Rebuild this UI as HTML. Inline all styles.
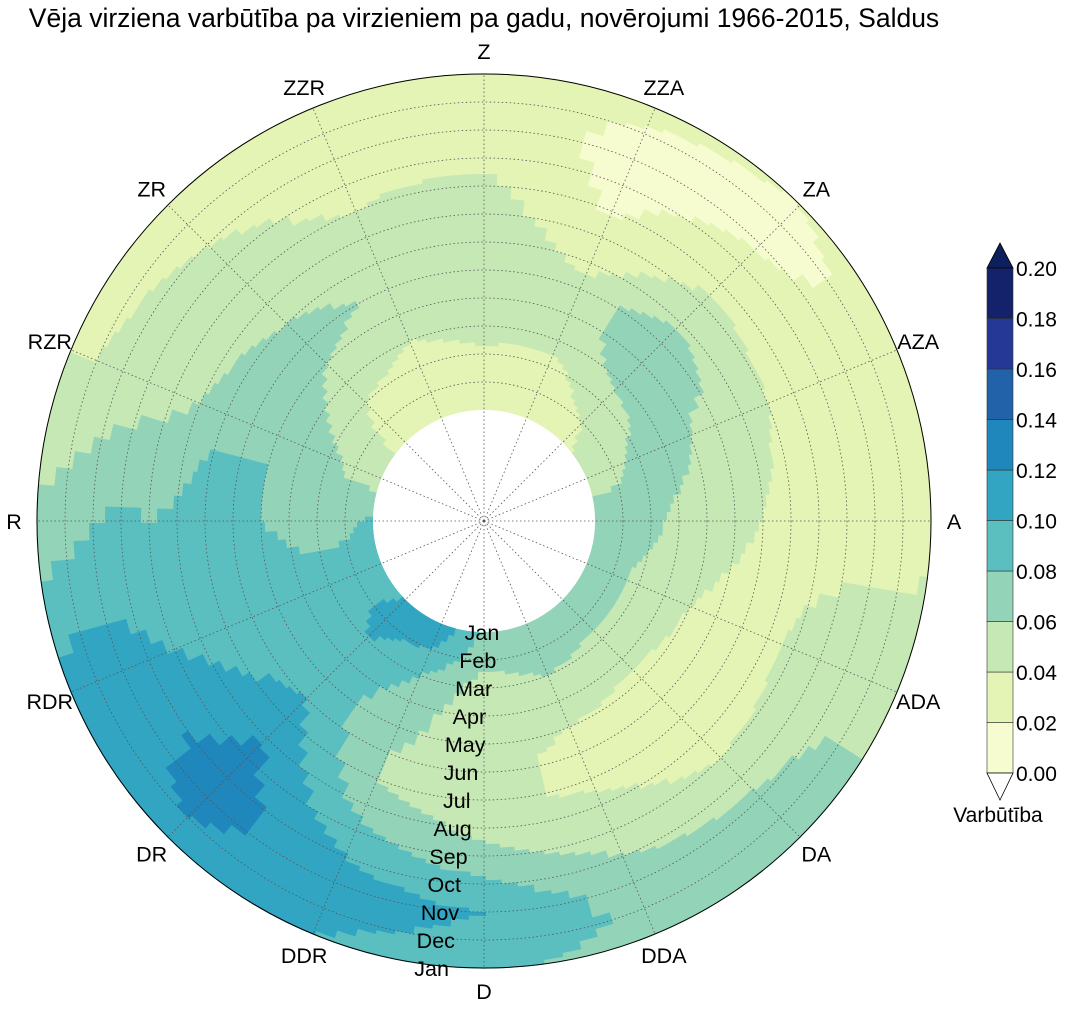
<!DOCTYPE html>
<html><head><meta charset="utf-8">
<style>
html,body{margin:0;padding:0;background:#fff;}
body{width:1065px;height:1008px;overflow:hidden;font-family:"Liberation Sans",Arial,sans-serif;}
svg text{font-family:"Liberation Sans",Arial,sans-serif;fill:#000;}
</style></head>
<body>
<svg id="chart" width="1065" height="1008" viewBox="0 0 1065 1008" xmlns="http://www.w3.org/2000/svg">
<text x="484" y="27" font-size="26.5" text-anchor="middle">Vēja virziena varbūtība pa virzieniem pa gadu, novērojumi 1966-2015, Saldus</text>
<g id="cells"></g>
<circle cx="484" cy="521" r="111" fill="#fff"/>
<g id="grid"></g>
<circle cx="484" cy="521" r="447" fill="none" stroke="#000" stroke-width="1"/>
<g id="dirlabels"></g>
<g id="monthlabels"></g>
<g id="cbar"></g>
<text x="998" y="822" font-size="21" text-anchor="middle">Varbūtība</text>
</svg>
<script>
const directions = ["Z","ZZA","ZA","AZA","A","ADA","DA","DDA","D","DDR","DR","RDR","R","RZR","ZR","ZZR"];
const months = ["Jan","Feb","Mar","Apr","May","Jun","Jul","Aug","Sep","Oct","Nov","Dec","Jan"];
const levels = [0,0.02,0.04,0.06,0.08,0.10,0.12,0.14,0.16,0.18,0.20];
const levelColors = ["#f7fcd0","#e3f4b4","#c6e8b4","#93d4b9","#5bbfc0","#31a5c2","#1f87bc","#2262a8","#253896","#13226a"];
const valZ   = [0.035,0.035,0.038,0.045,0.05,0.05,0.055,0.05,0.045,0.035,0.03,0.03,0.03];
const valZZA = [0.03,0.03,0.035,0.045,0.05,0.045,0.035,0.025,0.018,0.015,0.015,0.018,0.025];
const valZA  = [0.035,0.04,0.05,0.065,0.075,0.08,0.055,0.045,0.035,0.025,0.018,0.015,0.02];
const valAZA = [0.05,0.055,0.065,0.07,0.06,0.05,0.045,0.04,0.03,0.028,0.025,0.025,0.03];
const valA   = [0.07,0.07,0.065,0.055,0.05,0.045,0.04,0.035,0.03,0.03,0.03,0.03,0.035];
const valADA = [0.07,0.065,0.055,0.05,0.04,0.035,0.03,0.035,0.045,0.05,0.05,0.05,0.05];
const valDA  = [0.07,0.065,0.055,0.045,0.035,0.03,0.025,0.03,0.04,0.05,0.065,0.075,0.07];
const valDDA = [0.075,0.07,0.06,0.05,0.04,0.035,0.035,0.045,0.05,0.06,0.07,0.075,0.07];
const valD   = [0.075,0.065,0.05,0.045,0.045,0.045,0.045,0.055,0.065,0.085,0.1,0.095,0.085];
const valDDR = [0.115,0.1,0.08,0.07,0.065,0.06,0.06,0.07,0.085,0.1,0.11,0.105,0.1];
const valDR  = [0.1,0.105,0.1,0.095,0.09,0.1,0.11,0.12,0.125,0.13,0.125,0.12,0.11];
const valRDR = [0.095,0.09,0.09,0.09,0.1,0.095,0.09,0.095,0.1,0.105,0.11,0.115,0.11];
const valR   = [0.085,0.075,0.07,0.075,0.08,0.09,0.1,0.085,0.08,0.085,0.08,0.07,0.065];
const valRZR = [0.05,0.055,0.065,0.075,0.08,0.075,0.07,0.06,0.055,0.05,0.045,0.04,0.04];
const valZR  = [0.035,0.035,0.04,0.05,0.06,0.07,0.06,0.05,0.045,0.045,0.04,0.035,0.03];
const valZZR = [0.035,0.035,0.035,0.04,0.05,0.055,0.05,0.045,0.04,0.035,0.03,0.028,0.025];
const cbTicks = ["0.00","0.02","0.04","0.06","0.08","0.10","0.12","0.14","0.16","0.18","0.20"];

const values = [valZ,valZZA,valZA,valAZA,valA,valADA,valDA,valDDA,valD,valDDR,valDR,valRDR,valR,valRZR,valZR,valZZR];
const NS="http://www.w3.org/2000/svg";
const CX=484, CY=521, R0=111, R1=447;
const rScale = k => R0 + (R1-R0)*k/(months.length-1);
const pt = (deg, r) => { const a=deg*Math.PI/180; return [CX+r*Math.sin(a), CY-r*Math.cos(a)]; };
function colorFor(v){ let i=Math.floor(v/0.02); i=Math.max(0,Math.min(levelColors.length-1,i)); return levelColors[i]; }
function sample(dirF, monF){
  const n=directions.length;
  const d0=Math.floor(dirF), t=dirF-d0;
  const a=((d0%n)+n)%n, b=(a+1)%n;
  const m0=Math.min(months.length-2,Math.floor(monF)), u=monF-m0;
  const va=values[a][m0]*(1-u)+values[a][m0+1]*u;
  const vb=values[b][m0]*(1-u)+values[b][m0+1]*u;
  return va*(1-t)+vb*t;
}
const cells=document.getElementById('cells');
const NA=144, NR=84;
for(let i=0;i<NA;i++){
  const a0=i*360/NA, a1=(i+1)*360/NA;
  for(let j=0;j<NR;j++){
    const mf0=j*(months.length-1)/NR, mf1=(j+1)*(months.length-1)/NR;
    const v=sample((a0+a1)/2/22.5,(mf0+mf1)/2);
    const r0=rScale(mf0), r1=rScale(mf1)+0.6;
    const p1=pt(a0-0.3,r0),p2=pt(a1+0.3,r0),p3=pt(a1+0.3,r1),p4=pt(a0-0.3,r1);
    const p=document.createElementNS(NS,'path');
    p.setAttribute('d',`M${p1[0]},${p1[1]}A${r0},${r0} 0 0 1 ${p2[0]},${p2[1]}L${p3[0]},${p3[1]}A${r1},${r1} 0 0 0 ${p4[0]},${p4[1]}Z`);
    p.setAttribute('fill',colorFor(v));
    
    
    cells.appendChild(p);
  }
}
const grid=document.getElementById('grid');
for(let k=1;k<months.length-1;k++){
  const c=document.createElementNS(NS,'circle');
  c.setAttribute('cx',CX);c.setAttribute('cy',CY);c.setAttribute('r',rScale(k));
  c.setAttribute('fill','none');c.setAttribute('stroke','#555');c.setAttribute('stroke-width','0.8');c.setAttribute('stroke-dasharray','1.5,2.5');
  
  
  grid.appendChild(c);
}
directions.forEach((d,i)=>{
  const e=pt(i*22.5,R1);
  const l=document.createElementNS(NS,'line');
  l.setAttribute('x1',CX);l.setAttribute('y1',CY);l.setAttribute('x2',e[0]);l.setAttribute('y2',e[1]);
  l.setAttribute('stroke','#555');l.setAttribute('stroke-width','0.8');l.setAttribute('stroke-dasharray','1.5,2.5');
  
  
  grid.appendChild(l);
  const p=pt(i*22.5,470);
  const t=document.createElementNS(NS,'text');
  t.setAttribute('x',p[0]);t.setAttribute('y',p[1]+8);t.setAttribute('font-size','21.5');t.setAttribute('text-anchor','middle');
  t.textContent=d;
  
  
  document.getElementById('dirlabels').appendChild(t);
});
const ml=document.getElementById('monthlabels');
months.forEach((m,k)=>{
  const r=rScale(k);
  const t=document.createElementNS(NS,'text');
  t.setAttribute('x',482-(r-R0)*0.15);t.setAttribute('y',CY+r+8);
  t.setAttribute('font-size','21.5');t.setAttribute('text-anchor','middle');
  t.textContent=m;
  
  
  ml.appendChild(t);
});
const cb=document.getElementById('cbar');
const CBX=987, CBW=26, CBT=268, CBB=773;
const cbY = v => CBB-(CBB-CBT)*(v-levels[0])/(levels[levels.length-1]-levels[0]);
for(let i=0;i<levelColors.length;i++){
  const y0=cbY(levels[i+1]), y1=cbY(levels[i]);
  const r=document.createElementNS(NS,'rect');
  r.setAttribute('x',CBX);r.setAttribute('y',y0);r.setAttribute('width',CBW);r.setAttribute('height',y1-y0);
  r.setAttribute('fill',levelColors[i]);r.setAttribute('stroke','#333');r.setAttribute('stroke-width','0.6');
  
  
  cb.appendChild(r);
}
const up=document.createElementNS(NS,'polygon');
up.setAttribute('points',`${CBX},${CBT} ${CBX+CBW},${CBT} ${CBX+CBW/2},${CBT-25}`);
up.setAttribute('fill','#0d1f5c');up.setAttribute('stroke','#000');up.setAttribute('stroke-width','0.8');


cb.appendChild(up);
const dn=document.createElementNS(NS,'polygon');
dn.setAttribute('points',`${CBX},${CBB} ${CBX+CBW},${CBB} ${CBX+CBW/2},${CBB+27}`);
dn.setAttribute('fill','#fff');dn.setAttribute('stroke','#000');dn.setAttribute('stroke-width','0.8');


cb.appendChild(dn);
cbTicks.forEach((s,i)=>{
  const t=document.createElementNS(NS,'text');
  t.setAttribute('x',1016);t.setAttribute('y',cbY(levels[i])+8);t.setAttribute('font-size','21');
  t.textContent=s;
  
  
  cb.appendChild(t);
});
</script>
</body></html>
